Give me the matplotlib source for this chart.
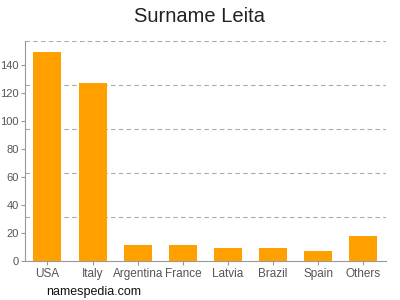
import numpy as np
import matplotlib.pyplot as plt

plt.rcParams['font.family'] = ['Liberation Sans', 'DejaVu Sans']

# DATOS
paises = ['USA', 'Italy', 'Argentina', 'France', 'Latvia', 'Brazil', 'Spain', 'Others']
valores = [149.5, 127, 11.3, 11.2, 9, 9, 7, 18.2]
y_ticks = [0, 20, 40, 60, 80, 100, 120, 140]
y_top = 157

fig = plt.figure(figsize=(4, 3), dpi=100)
ax = fig.add_axes([0.062, 0.13, 0.903, 0.733])

x = np.arange(len(paises))
ax.bar(x, valores, width=0.62, color='#ffa000', zorder=3)

# lineas guia punteadas (5 divisiones del rango)
for k in range(1, 6):
    ax.axhline(y_top * k / 5, color='#aaaaaa', linestyle=(0, (4, 3)), linewidth=0.8, zorder=1)

ax.set_xlim(-0.5, len(paises) - 0.5)
ax.set_ylim(0, y_top)
ax.set_xticks(x)
ax.set_xticklabels(paises)
ax.set_yticks(y_ticks)

for lado in ['top', 'right']:
    ax.spines[lado].set_visible(False)
for lado in ['left', 'bottom']:
    ax.spines[lado].set_color('#999999')
ax.tick_params(colors='#999999', labelcolor='#555555', labelsize=8.5, length=3, pad=2)
ax.tick_params(axis='y', labelsize=8, pad=1.5)

fig.text(0.5, 0.945, 'Surname Leita', ha='center', va='center', fontsize=14.5, color='#222222')
fig.text(0.115, 0.027, 'namespedia.com', ha='left', va='center', fontsize=9, color='#111111')

fig.savefig('out.png', dpi=100)
